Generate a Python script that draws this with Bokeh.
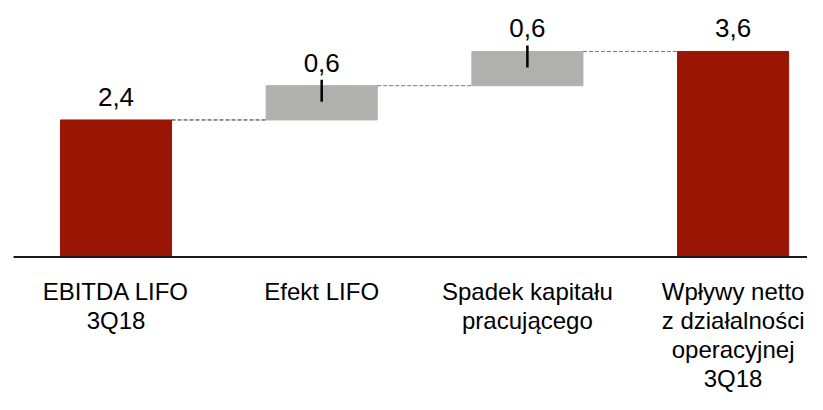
from bokeh.plotting import figure
from bokeh.models import Range1d, ColumnDataSource
from bokeh.core.properties import value
from bokeh.embed import file_html
from bokeh.resources import INLINE

# ---- data ----
categories = ["EBITDA LIFO\n3Q18", "Efekt LIFO", "Spadek kapitału\npracującego",
              "Wpływy netto\nz działalności\noperacyjnej\n3Q18"]
values = [2.4, 0.6, 0.6, 3.6]
kinds = ["total", "delta", "delta", "total"]
value_labels = ["2,4", "0,6", "0,6", "3,6"]

RED = "#9b1504"
GRAY = "#b0b1ac"

# ---- waterfall geometry derived from data ----
xs = list(range(len(values)))
bottoms, tops = [], []
running = 0.0
for v, k in zip(values, kinds):
    if k == "total":
        bottoms.append(0.0)
        tops.append(v)
        running = v
    else:
        bottoms.append(running)
        running += v
        tops.append(running)
colors = [RED if k == "total" else GRAY for k in kinds]

W, H = 807, 394
px_per_unit = 57.1
base_px = 256.5
px_per_cat = 205.7
x0_px = 115.5

p = figure(width=W, height=H, output_backend="svg", toolbar_location=None,
           x_range=Range1d(-x0_px / px_per_cat, (W - x0_px) / px_per_cat),
           y_range=Range1d(-(H - base_px) / px_per_unit, base_px / px_per_unit),
           min_border=0)
p.axis.visible = False
p.grid.visible = False
p.outline_line_color = None
p.background_fill_color = "white"
p.border_fill_color = "white"

bar_w = 0.54
src = ColumnDataSource(dict(x=xs, bottom=bottoms, top=tops, color=colors))
p.vbar(x="x", width=bar_w, bottom="bottom", top="top", source=src,
       fill_color="color", line_color="color", line_width=1)

# connectors
cx0 = [x + bar_w / 2 for x in xs[:-1]]
cx1 = [x + 1 - bar_w / 2 for x in xs[:-1]]
cy = tops[:-1]
conn_colors = ["#222222", "#777777", "#777777"]
p.segment(x0=cx0, y0=cy, x1=cx1, y1=cy, line_color=conn_colors,
          line_width=1, line_dash="4 2")

# ticks on delta bars
dx = [x for x, k in zip(xs, kinds) if k == "delta"]
dt = [t for t, k in zip(tops, kinds) if k == "delta"]
p.segment(x0=dx, y0=[t + 6 / px_per_unit for t in dt], x1=dx,
          y1=[t - 16 / px_per_unit for t in dt], line_color="black", line_width=2.5)

# value labels
p.text(x=xs, y=[t + 14 / px_per_unit for t in tops], text=value_labels,
       text_align="center", text_baseline="bottom",
       text_font=value("Liberation Sans"), text_font_size="26px",
       text_color="black")

# baseline
p.segment(x0=[-(x0_px - 13) / px_per_cat], y0=[0], x1=[(W - x0_px) / px_per_cat], y1=[0],
          line_color="#1a1a1a", line_width=2)

# category labels
p.text(x=xs, y=[-(277 - base_px) / px_per_unit] * len(xs), text=categories,
       text_align="center", text_baseline="top",
       text_font=value("Liberation Sans"), text_font_size="24px",
       text_line_height=1.08, text_color="black")

open("out.html", "w").write(file_html(p, INLINE))
